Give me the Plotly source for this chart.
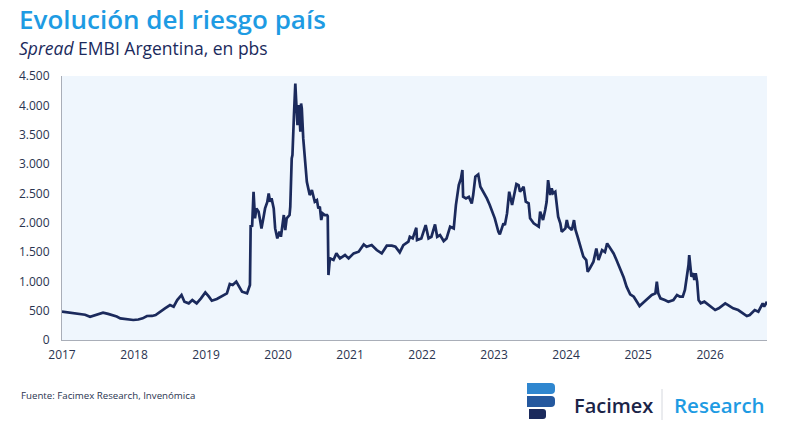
import plotly.graph_objects as go

# ---- data (decimal year, spread in bps) ----
years = [
    2017.00, 2017.05, 2017.11, 2017.18, 2017.25, 2017.32, 2017.39, 2017.46, 2017.52, 2017.57,
    2017.64, 2017.71, 2017.76, 2017.81, 2017.90, 2017.99, 2018.06, 2018.12, 2018.18, 2018.25,
    2018.30, 2018.36, 2018.43, 2018.50, 2018.55, 2018.60, 2018.62, 2018.66, 2018.70, 2018.76,
    2018.81, 2018.87, 2018.93, 2018.99, 2019.04, 2019.08, 2019.15, 2019.24, 2019.29, 2019.33,
    2019.37, 2019.42, 2019.46, 2019.50, 2019.57, 2019.60,
    2019.61, 2019.62, 2019.64, 2019.66, 2019.68, 2019.70, 2019.73, 2019.75, 2019.77, 2019.80,
    2019.82, 2019.85, 2019.87, 2019.89, 2019.91, 2019.94, 2019.96, 2019.99, 2020.02, 2020.04,
    2020.06, 2020.08, 2020.10, 2020.12, 2020.16, 2020.17, 2020.19, 2020.20, 2020.22, 2020.24,
    2020.25, 2020.27, 2020.29, 2020.31, 2020.32, 2020.33, 2020.35, 2020.38, 2020.40, 2020.42,
    2020.44, 2020.47, 2020.49, 2020.51, 2020.54, 2020.56, 2020.58, 2020.60, 2020.62, 2020.65,
    2020.68, 2020.69, 2020.70, 2020.72, 2020.77, 2020.81, 2020.86, 2020.93, 2020.98,
    2021.05, 2021.12, 2021.19, 2021.23, 2021.30, 2021.37, 2021.44, 2021.51, 2021.58, 2021.63,
    2021.69, 2021.74, 2021.81, 2021.83, 2021.87, 2021.92, 2021.93, 2021.99, 2022.05, 2022.09,
    2022.13, 2022.18, 2022.21, 2022.25, 2022.30, 2022.34, 2022.39, 2022.44, 2022.47, 2022.51,
    2022.54, 2022.56, 2022.57, 2022.61, 2022.65, 2022.69, 2022.71, 2022.74, 2022.78, 2022.81,
    2022.85, 2022.90, 2022.94, 2022.99, 2023.01, 2023.06, 2023.08,
    2023.13, 2023.15, 2023.18, 2023.21, 2023.25, 2023.27, 2023.31, 2023.34, 2023.36, 2023.41,
    2023.44, 2023.48, 2023.50, 2023.55, 2023.59, 2023.62, 2023.64, 2023.68, 2023.71, 2023.73,
    2023.75, 2023.78, 2023.80, 2023.82, 2023.85, 2023.87, 2023.89, 2023.92, 2023.94, 2023.99,
    2024.01, 2024.03, 2024.08, 2024.11, 2024.13, 2024.16, 2024.19, 2024.24, 2024.28, 2024.30,
    2024.33, 2024.38, 2024.42, 2024.45, 2024.50, 2024.54, 2024.57, 2024.61,
    2024.66, 2024.70, 2024.75, 2024.80, 2024.84, 2024.89, 2024.94, 2024.98, 2025.02, 2025.07,
    2025.14, 2025.19, 2025.24, 2025.26, 2025.28, 2025.31, 2025.37, 2025.42, 2025.49, 2025.54,
    2025.58, 2025.62, 2025.65, 2025.68, 2025.70, 2025.71, 2025.73, 2025.74, 2025.77, 2025.78,
    2025.80, 2025.82, 2025.84, 2025.87, 2025.92, 2025.98, 2026.02, 2026.07, 2026.12, 2026.21,
    2026.25, 2026.32, 2026.39, 2026.46, 2026.51, 2026.55, 2026.62, 2026.67, 2026.73, 2026.75,
    2026.79,
]
spread = [
    483, 475, 466, 460, 454, 430, 397, 420, 440, 465,
    445, 420, 400, 369, 352, 341, 350, 369, 409, 410,
    426, 483, 539, 596, 568, 680, 710, 767, 653, 625,
    681, 625, 710, 812, 738, 670, 700, 767, 795, 954,
    937, 994, 908, 823, 795, 880,
    937, 1959, 1930, 2527, 2073, 2243, 2186, 2050, 1902, 2100,
    2243, 2350, 2499, 2357, 2414, 2243, 1902, 1732, 1846, 1760,
    1950, 2130, 1874, 2073, 2130, 2272, 3095, 3152, 3800, 4373,
    4117, 3663, 4003, 3550, 4032, 3946, 3436, 2981, 2697, 2584,
    2470, 2555, 2470, 2357, 2385, 2243, 2272, 2044, 2158, 2130,
    2130, 2110, 1107, 1391, 1363, 1476, 1391, 1448, 1391,
    1476, 1505, 1630, 1590, 1618, 1533, 1476, 1607, 1607, 1590,
    1493, 1618, 1675, 1760, 1732, 1914, 1704, 1732, 1959, 1732,
    1760, 1970, 1760, 1789, 1687, 1732, 1931, 1902, 2300, 2641,
    2754, 2896, 2442, 2413, 2440, 2328, 2470, 2782, 2822, 2612,
    2527, 2414, 2300, 2158, 2073, 1845, 1800,
    1988, 1960, 2158, 2527, 2300, 2442, 2658, 2640, 2527, 2612,
    2357, 2328, 2073, 1988, 1959, 1931, 2186, 2044, 2215, 2357,
    2726, 2471, 2584, 2500, 2527, 2328, 2101, 1988, 1846, 1902,
    2044, 1931, 1874, 2044, 1880, 1760, 1647, 1420, 1363, 1164,
    1221, 1334, 1561, 1363, 1533, 1500, 1647, 1561,
    1476, 1363, 1220, 1065, 909, 780, 738, 653, 579, 636,
    710, 767, 795, 994, 795, 710, 681, 653, 681, 767,
    738, 740, 852, 1079, 1278, 1448, 1192, 1079, 1136, 1022,
    1136, 994, 681, 625, 653, 596, 568, 511, 540, 625,
    596, 540, 511, 454, 409, 426, 511, 483, 625, 568,
    653,
]

tick_years = [2017, 2018, 2019, 2020, 2021, 2022, 2023, 2024, 2025, 2026]
tick_labels = ["2017", "2018", "2019", "2020", "2021", "2022", "2023", "2024", "2025", "2026"]
y_ticks = [0, 500, 1000, 1500, 2000, 2500, 3000, 3500, 4000, 4500]

title_text = "Evolución del riesgo país"
subtitle_text = "<i>Spread</i> EMBI Argentina, en pbs"
source_text = "Fuente: Facimex Research, Invenómica"

# ---- layout geometry (pixels) ----
W, H = 800, 432
L, R, T, B = 62, 767, 76, 340

def px(xp):
    return (xp - L) / (R - L)

def py(yp):
    return (B - yp) / (B - T)

FONT = "Open Sans"
NAVY = "#1B2A5C"
BLUE = "#1E9BE3"

fig = go.Figure()
fig.add_trace(go.Scatter(
    x=years, y=spread, mode="lines",
    line=dict(color=NAVY, width=2.7),
    hoverinfo="skip", showlegend=False,
))

fig.update_layout(
    width=W, height=H,
    margin=dict(l=L, r=W - R, t=T, b=H - B, pad=0),
    paper_bgcolor="white",
    plot_bgcolor="#EFF6FD",
    separators=",.",
    font=dict(family=FONT, color="#2A3450", size=12),
    xaxis=dict(
        range=[2017, 2026.79], tickvals=tick_years, ticktext=tick_labels,
        showgrid=False, zeroline=False, showline=True, linecolor="#A9AEB8", linewidth=1,
        ticks="outside", ticklen=4, tickcolor="rgba(0,0,0,0)",
        tickfont=dict(size=12, color="#2A3450"),
    ),
    yaxis=dict(
        range=[0, 4500], tickvals=y_ticks, tickformat=",d",
        showgrid=False, zeroline=False, showline=True, linecolor="#A9AEB8", linewidth=1,
        ticks="outside", ticklen=9, tickcolor="rgba(0,0,0,0)",
        tickfont=dict(size=12, color="#2A3450"),
    ),
)

ann = []
ann.append(dict(text=title_text, x=px(17), y=py(18.5), xref="paper", yref="paper",
                xanchor="left", yanchor="middle", showarrow=False,
                font=dict(family=FONT, size=26, color=BLUE, weight=600)))
ann.append(dict(text=subtitle_text, x=px(17), y=py(48), xref="paper", yref="paper",
                xanchor="left", yanchor="middle", showarrow=False,
                font=dict(family=FONT, size=17.5, color=NAVY)))
ann.append(dict(text=source_text, x=px(19), y=py(395), xref="paper", yref="paper",
                xanchor="left", yanchor="middle", showarrow=False,
                font=dict(family=FONT, size=9.7, color="#2A3450")))
ann.append(dict(text="Facimex", x=px(572), y=py(405), xref="paper", yref="paper",
                xanchor="left", yanchor="middle", showarrow=False,
                font=dict(family=FONT, size=20, color="#1B2447", weight=600)))
ann.append(dict(text="Research", x=px(672), y=py(405), xref="paper", yref="paper",
                xanchor="left", yanchor="middle", showarrow=False,
                font=dict(family=FONT, size=20.5, color=BLUE, weight=600)))
fig.update_layout(annotations=ann)

def rpath(x0, y0, x1, y1, r):
    # rounded-right bar in paper coords from pixel coords
    return (f"M {px(x0)},{py(y0)} L {px(x1 - r)},{py(y0)} "
            f"Q {px(x1)},{py(y0)} {px(x1)},{py(y0 + r)} "
            f"L {px(x1)},{py(y1 - r)} Q {px(x1)},{py(y1)} {px(x1 - r)},{py(y1)} "
            f"L {px(x0)},{py(y1)} Z")

shapes = [
    dict(type="path", xref="paper", yref="paper", path=rpath(527, 383, 555, 394, 4),
         fillcolor="#2F86CF", line=dict(width=0)),
    dict(type="path", xref="paper", yref="paper", path=rpath(527, 396, 555, 407, 4),
         fillcolor="#25589E", line=dict(width=0)),
    dict(type="path", xref="paper", yref="paper", path=rpath(529, 409, 546, 419, 3),
         fillcolor="#1B2A5C", line=dict(width=0)),
    dict(type="line", xref="paper", yref="paper", x0=px(662), x1=px(662),
         y0=py(389), y1=py(420), line=dict(color="#D5D8DE", width=1)),
]
fig.update_layout(shapes=shapes)

fig.write_html("out.html")
